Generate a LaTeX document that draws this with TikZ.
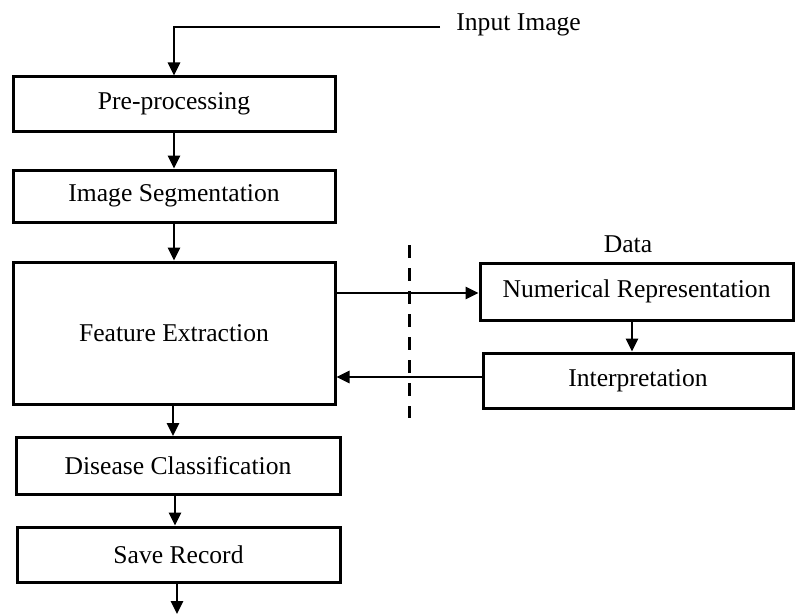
\documentclass[tikz,border=0pt]{standalone}
\usepackage{fontspec}
\setmainfont{Liberation Serif}
\usetikzlibrary{arrows.meta,calc}
\begin{document}
\begin{tikzpicture}[x=0.5pt,y=-0.5pt,
  box/.style={draw,line width=1.5pt,inner sep=0pt,font=\fontsize{12.8}{15}\selectfont},
  lbl/.style={inner sep=0pt,font=\fontsize{12.8}{15}\selectfont},
  arr/.style={line width=1.35pt,-{Triangle[length=6.5pt,width=6pt]}},
  sep/.style={line width=1.5pt,dash pattern=on 6.5pt off 5pt}]
\useasboundingbox (0,0) rectangle (795,615);
\node[box,minimum width=161pt,minimum height=27pt] (pre) at (174,104) {Pre-processing};
\node[box,minimum width=161pt,minimum height=26pt] (seg) at (174,196) {Image Segmentation};
\node[box,minimum width=161pt,minimum height=71pt] (fe) at (174,333) {Feature Extraction};
\node[box,minimum width=162pt,minimum height=28.5pt] (dc) at (178,466) {Disease Classification};
\node[box,minimum width=161.5pt,minimum height=27.5pt] (sr) at (178.5,554.5) {Save Record};
\node[box,minimum width=156.5pt,minimum height=28.5pt] (nr) at (636.5,291.5) {Numerical Representation};
\node[box,minimum width=155pt,minimum height=27.5pt] (int) at (638,380.5) {Interpretation};
\node[lbl,anchor=west] (inp) at (456,25) {Input Image};
\node[lbl] (data) at (628,244) {Data};
\coordinate (inend) at (440,27);
\coordinate (out) at (177,614);
\coordinate (dtop) at (409,245);
\coordinate (dbot) at (409,418);
\coordinate (feout) at (fe.east |- 0,293);
\coordinate (nrin) at (nr.west |- 0,293);
\coordinate (intout) at (int.west |- 0,377);
\coordinate (fein) at (fe.east |- 0,377);
\coordinate (nrout) at (nr.south -| 632,0);
\coordinate (intin) at (int.north -| 632,0);
\coordinate (feb) at (fe.south -| 173,0);
\coordinate (dct) at (dc.north -| 173,0);
\coordinate (dcb) at (dc.south -| 175,0);
\coordinate (srt) at (sr.north -| 175,0);
\coordinate (srb) at (sr.south -| 177,0);
\draw[arr] (inend) -| (pre.north);
\draw[arr] (pre.south) -- (seg.north);
\draw[arr] (seg.south) -- (fe.north);
\draw[arr] (feb) -- (dct);
\draw[arr] (dcb) -- (srt);
\draw[arr] (srb) -- (out);
\draw[arr] (feout) -- (nrin);
\draw[arr] (intout) -- (fein);
\draw[arr] (nrout) -- (intin);
\draw[sep] (dtop) -- (dbot);
\end{tikzpicture}
\end{document}
